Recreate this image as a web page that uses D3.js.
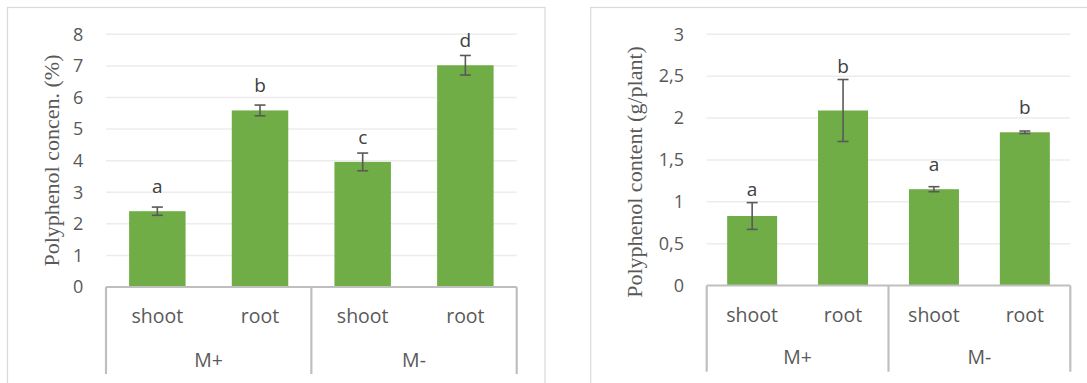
<!DOCTYPE html>
<html><head><meta charset="utf-8">
<script src="https://cdn.jsdelivr.net/npm/d3@7"></script>
<style>body{margin:0;background:#fff}svg{display:block}</style>
</head><body><svg id="c" width="1087" height="383"></svg>
<script>
// ---- data ----
const groups = ["M+", "M-"];
const organs = ["shoot", "root"];
const categories = ["M+|shoot", "M+|root", "M-|shoot", "M-|root"];

const concValues = [2.40, 5.59, 3.96, 7.02];
const concErrors = [0.13, 0.17, 0.28, 0.31];
const concLetters = ["a", "b", "c", "d"];
const concTicks = [0, 1, 2, 3, 4, 5, 6, 7, 8];
const concTickLabels = ["0", "1", "2", "3", "4", "5", "6", "7", "8"];
const concTitle = "Polyphenol concen. (%)";

const contentValues = [0.83, 2.09, 1.15, 1.83];
const contentErrors = [0.16, 0.37, 0.03, 0.015];
const contentLetters = ["a", "b", "a", "b"];
const contentTicks = [0, 0.5, 1, 1.5, 2, 2.5, 3];
const contentTickLabels = ["0", "0,5", "1", "1,5", "2", "2,5", "3"];
const contentTitle = "Polyphenol content (g/plant)";

// ---- drawing ----
const svg = d3.select("#c");
const SANS = "'Open Sans', Lato, sans-serif";
const SERIF = "'Liberation Serif', 'Times New Roman', serif";

function drawChart(o) {
  const g = svg.append("g");
  // frame
  g.append("rect").attr("x", o.frame[0]).attr("y", o.frame[1])
    .attr("width", o.frame[2]).attr("height", o.frame[3])
    .attr("fill", "#fff").attr("stroke", "#d9d9d9").attr("stroke-width", 1.2);

  const x = d3.scaleBand().domain(categories).range([o.left, o.right]).paddingInner(0.45).paddingOuter(0.225);
  const xb = d3.scaleBand().domain(categories).range([o.left, o.right]);
  const y = d3.scaleLinear().domain([0, d3.max(o.ticks)]).range([o.bottom, o.top]);

  // gridlines
  g.append("g").selectAll("line").data(o.ticks.slice(1)).join("line")
    .attr("x1", o.left).attr("x2", o.right)
    .attr("y1", d => y(d)).attr("y2", d => y(d))
    .attr("stroke", "#ececec").attr("stroke-width", 1.5);

  // y axis labels
  const yAxis = d3.axisLeft(y).tickValues(o.ticks)
    .tickFormat((d, i) => o.tickLabels[i]).tickSize(0).tickPadding(o.tickPad);
  const ya = g.append("g").attr("transform", `translate(${o.left},0)`).call(yAxis);
  ya.select(".domain").remove();
  ya.selectAll("text").attr("fill", "#595959").style("font-family", SANS).style("font-size", "18px");

  // bars
  g.append("g").selectAll("rect").data(o.values).join("rect")
    .attr("x", (d, i) => x(categories[i])).attr("width", x.bandwidth())
    .attr("y", d => y(d)).attr("height", d => y(0) - y(d))
    .attr("fill", "#70ad47");

  // error bars
  const eb = g.append("g").attr("stroke", "#595959").attr("stroke-width", 1.6);
  o.values.forEach((v, i) => {
    const cx = x(categories[i]) + x.bandwidth() / 2;
    const e = o.errors[i];
    eb.append("line").attr("x1", cx).attr("x2", cx).attr("y1", y(v + e)).attr("y2", y(v - e));
    [v + e, v - e].forEach(t => eb.append("line").attr("x1", cx - 5.5).attr("x2", cx + 5.5).attr("y1", y(t)).attr("y2", y(t)));
  });

  // letters
  g.append("g").selectAll("text").data(o.letters).join("text")
    .attr("x", (d, i) => x(categories[i]) + x.bandwidth() / 2)
    .attr("y", (d, i) => Math.min(y(o.values[i]) - 18, y(o.values[i] + o.errors[i]) - 7))
    .attr("text-anchor", "middle").attr("fill", "#404040")
    .style("font-family", SANS).style("font-size", "19px").text(d => d);

  // baseline axis
  g.append("line").attr("x1", o.left).attr("x2", o.right).attr("y1", y(0)).attr("y2", y(0))
    .attr("stroke", "#bfbfbf").attr("stroke-width", 2.2);

  // category box lines
  const vx = [o.left, xb(categories[2]), o.right];
  g.append("g").selectAll("line").data(vx).join("line")
    .attr("x1", d => d).attr("x2", d => d).attr("y1", y(0)).attr("y2", o.boxBottom)
    .attr("stroke", "#bfbfbf").attr("stroke-width", 2.2);

  // organ labels
  g.append("g").selectAll("text").data(categories).join("text")
    .attr("x", d => xb(d) + xb.bandwidth() / 2).attr("y", o.organY)
    .attr("text-anchor", "middle").attr("fill", "#595959")
    .style("font-family", SANS).style("font-size", "19.5px")
    .text(d => d.split("|")[1]);

  // group labels
  g.append("g").selectAll("text").data(groups).join("text")
    .attr("x", (d, i) => (xb(categories[i * 2]) + xb(categories[i * 2 + 1]) + xb.bandwidth()) / 2)
    .attr("y", o.groupY)
    .attr("text-anchor", "middle").attr("fill", "#595959")
    .style("font-family", SANS).style("font-size", "19.5px").text(d => d);

  // y title
  g.append("text").attr("transform", `translate(${o.titleX},${o.titleY}) rotate(-90)`)
    .attr("text-anchor", "middle").attr("fill", "#595959")
    .style("font-family", SERIF).style("font-size", "22px").text(o.title);
}

drawChart({
  frame: [7.5, 7.5, 537.5, 400],
  left: 106, right: 516.7, top: 34.3, bottom: 287,
  ticks: concTicks, tickLabels: concTickLabels, tickPad: 22.7,
  values: concValues, errors: concErrors, letters: concLetters,
  boxBottom: 374, organY: 323.3, groupY: 366.7,
  title: concTitle, titleX: 58.6, titleY: 160.5
});
drawChart({
  frame: [590.7, 7.5, 520, 400],
  left: 706.7, right: 1070.3, top: 34.3, bottom: 285.5,
  ticks: contentTicks, tickLabels: contentTickLabels, tickPad: 22.7,
  values: contentValues, errors: contentErrors, letters: contentLetters,
  boxBottom: 371.7, organY: 321.7, groupY: 364.3,
  title: contentTitle, titleX: 641.6, titleY: 172
});
</script></body></html>
